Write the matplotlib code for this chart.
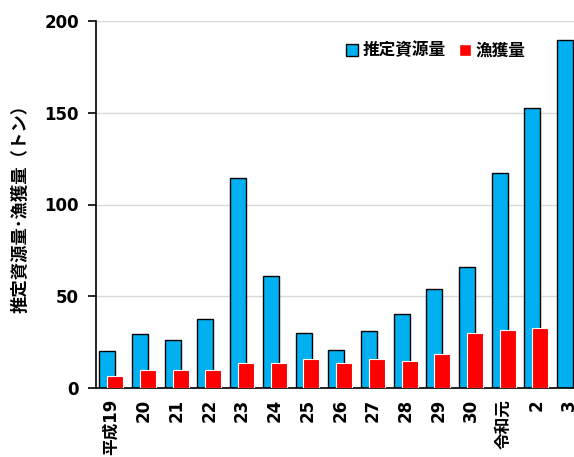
import numpy as np
import matplotlib
matplotlib.use("Agg")
import matplotlib.pyplot as plt
from matplotlib.patches import Patch

plt.rcParams['font.family'] = ['DejaVu Sans', 'Noto Sans CJK JP']
plt.rcParams['font.weight'] = 'bold'

# 年度ごとの推定資源量と漁獲量（トン）
years = ['平成19', '20', '21', '22', '23', '24', '25', '26', '27', '28',
         '29', '30', '令和元', '2', '3']
stock = [20.2, 29.3, 26.2, 37.6, 114.2, 61.1, 30.0, 20.6, 30.8, 40.4,
         53.7, 65.7, 117.1, 152.4, 189.5]
catch = [6.4, 9.7, 9.7, 9.7, 13.5, 13.5, 15.7, 13.6, 15.7, 14.7,
         18.5, 29.8, 31.6, 32.6]

blue = '#00B0F0'
red = '#FF0000'

fig = plt.figure(figsize=(5.74, 4.57), dpi=100)
ax = fig.add_axes([95.7 / 574, 1 - 388 / 457, (574 - 95.7) / 574, (388 - 21) / 457])

x = np.arange(len(years))
w = 0.49
off = 0.12
ax.bar(x - off, stock, width=w, color=blue, edgecolor='black', linewidth=1.0, zorder=2)
ax.bar(x[:len(catch)] + off, catch, width=w, color=red, edgecolor='white', linewidth=0.8, zorder=3)

ax.set_xlim(-0.477, 14.15)
ax.set_ylim(0, 200)
ax.set_yticks([0, 50, 100, 150, 200])
ax.yaxis.grid(True, color='#D9D9D9', linewidth=1.0, zorder=0)
ax.set_axisbelow(True)

for s in ['top', 'right']:
    ax.spines[s].set_visible(False)
ax.spines['left'].set_linewidth(1.2)
ax.spines['bottom'].set_linewidth(1.2)

ax.set_xticks(x)
ax.set_xticklabels(years, rotation=90, fontsize=12, fontweight='bold')
ax.tick_params(axis='x', length=0, pad=8)
ax.tick_params(axis='y', length=6, width=1.2, labelsize=12, pad=6)
for t in ax.get_yticklabels():
    t.set_fontweight('bold')

ax.set_ylabel('推定資源量･漁獲量（トン）', fontsize=12.5, fontweight='bold',
              family=['Noto Sans CJK JP', 'DejaVu Sans'], labelpad=11)

handles = [Patch(facecolor=blue, edgecolor='black', linewidth=1.0),
           Patch(facecolor=red, edgecolor='white')]
leg = ax.legend(handles, ['推定資源量', '漁獲量'], loc='upper right',
                bbox_to_anchor=(0.93, 0.985), ncol=2, frameon=False,
                handlelength=0.7, handleheight=0.7, handletextpad=0.3,
                columnspacing=0.8,
                prop={'family': ['Noto Sans CJK JP'], 'weight': 'bold', 'size': 12})

fig.savefig('out.png', dpi=100)
